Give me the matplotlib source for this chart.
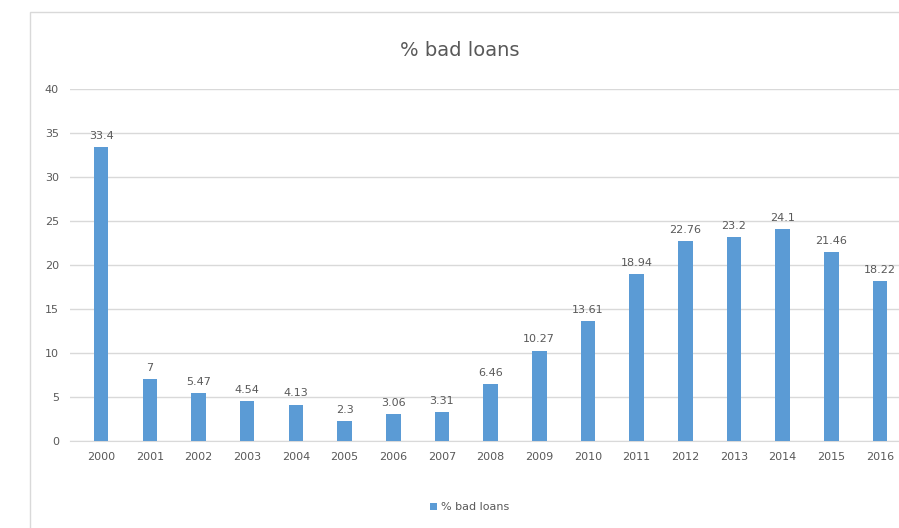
import matplotlib.pyplot as plt
from matplotlib.patches import Rectangle

years = [str(y) for y in range(2000, 2017)]
bad_loans = [33.4, 7, 5.47, 4.54, 4.13, 2.3, 3.06, 3.31, 6.46, 10.27,
             13.61, 18.94, 22.76, 23.2, 24.1, 21.46, 18.22]
yticks = [0, 5, 10, 15, 20, 25, 30, 35, 40]

grey = '#595959'
blue = '#5b9bd5'

fig = plt.figure(figsize=(8.99, 5.28), dpi=100)
ax = fig.add_axes([70/899, 87/528, 829/899, 352/528])

x = list(range(len(years)))
bars = ax.bar(x, bad_loans, width=0.3, color=blue, label='% bad loans', zorder=3)

for xi, v in zip(x, bad_loans):
    ax.text(xi, v + 0.7, f'{v:g}', ha='center', va='bottom', fontsize=8, color=grey)

ax.set_xlim(-0.64, 16.39)
ax.set_ylim(0, 40)
ax.set_xticks(x)
ax.set_xticklabels(years, fontsize=8, color=grey)
ax.set_yticks(yticks)
ax.set_yticklabels([str(t) for t in yticks], fontsize=8, color=grey)
ax.tick_params(length=0, pad=8)
ax.yaxis.grid(True, color='#d9d9d9', linewidth=1, zorder=0)
for s in ['top', 'right', 'left']:
    ax.spines[s].set_visible(False)
ax.spines['bottom'].set_color('#d9d9d9')

fig.text(460/899, 1 - 50/528, '% bad loans', ha='center', va='center',
         fontsize=14, color=grey)

fig.legend(handles=[bars], loc='center', bbox_to_anchor=(470/899, 1 - 507/528),
           frameon=False, fontsize=8, labelcolor=grey, handlelength=0.6,
           handleheight=0.6, handletextpad=0.4)

# outer chart frame
fig.patches.append(Rectangle((30/899, -0.1), 1.0, 1 - 12/528 + 0.1,
                             transform=fig.transFigure, fill=False,
                             edgecolor='#d9d9d9', linewidth=1))

fig.savefig('out.png', dpi=100)
